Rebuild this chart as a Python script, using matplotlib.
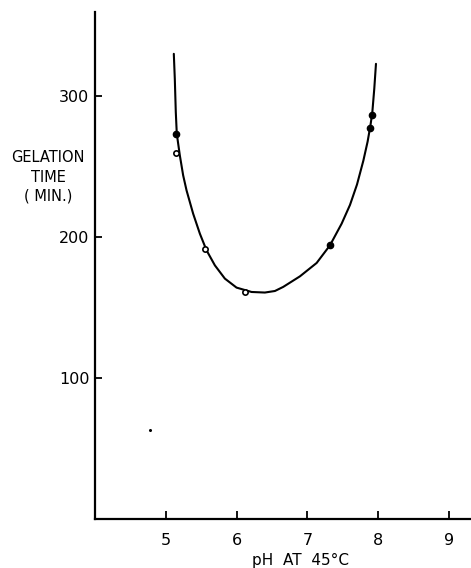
import matplotlib.pyplot as plt
import numpy as np

# observed points
ph_filled = [5.15, 7.32, 7.89, 7.91]
time_filled = [273.5, 194.8, 277.8, 287.0]
ph_open = [5.15, 5.56, 6.12]
time_open = [259.8, 192.0, 161.0]

# hand-drawn curve
ph_curve = [5.113, 5.127, 5.141, 5.155, 5.198, 5.245, 5.293, 5.386, 5.481, 5.575,
            5.693, 5.834, 5.999, 6.211, 6.399, 6.541, 6.658, 6.894, 7.130, 7.318,
            7.483, 7.601, 7.700, 7.790, 7.850, 7.890, 7.916, 7.944, 7.968]
time_curve = [330.3, 312.6, 288.9, 273.5, 258.2, 244.0, 233.3, 216.8, 202.6, 190.8,
              180.1, 170.7, 164.3, 161.2, 160.8, 161.9, 164.8, 172.3, 181.8, 194.3,
              209.7, 223.0, 237.5, 254.5, 268.0, 279.5, 288.5, 305.5, 323.2]

xticks = [5, 6, 7, 8, 9]
yticks = [100, 200, 300]

plt.rcParams['font.family'] = ['DejaVu Sans']
fig = plt.figure(figsize=(4.71, 5.68), dpi=100)
ax = fig.add_axes([95/471, 1 - 519/568, 1 - 95/471, (519 - 12)/568])

ax.plot(ph_curve, time_curve, color='black', lw=1.5, solid_capstyle='round',
        solid_joinstyle='round')
ax.plot(ph_filled, time_filled, 'o', color='black', ms=4.5)
ax.plot(ph_open, time_open, 'o', mfc='white', mec='black', mew=1.2, ms=3.8)
ax.plot([4.774], [63.1], 'o', color='black', ms=1.2)

ax.set_xlim(4.0, 9.31)
ax.set_ylim(0, 360)
ax.set_xticks(xticks)
ax.set_yticks(yticks)
for s in ['top', 'right']:
    ax.spines[s].set_visible(False)
for s in ['left', 'bottom']:
    ax.spines[s].set_linewidth(1.6)
ax.tick_params(axis='x', direction='in', length=6, width=1.3, pad=10, labelsize=11.5)
ax.tick_params(axis='y', direction='in', length=5, width=1.3, pad=4, labelsize=11.5)

fig.text(48/471, 1 - 177/568, 'GELATION\nTIME\n( MIN.)', ha='center', va='center',
         fontsize=10.5, linespacing=1.35)
fig.text(300/471, 1 - 560/568, 'pH  AT  45°C', ha='center', va='center', fontsize=11)

fig.savefig('out.png', dpi=100)
